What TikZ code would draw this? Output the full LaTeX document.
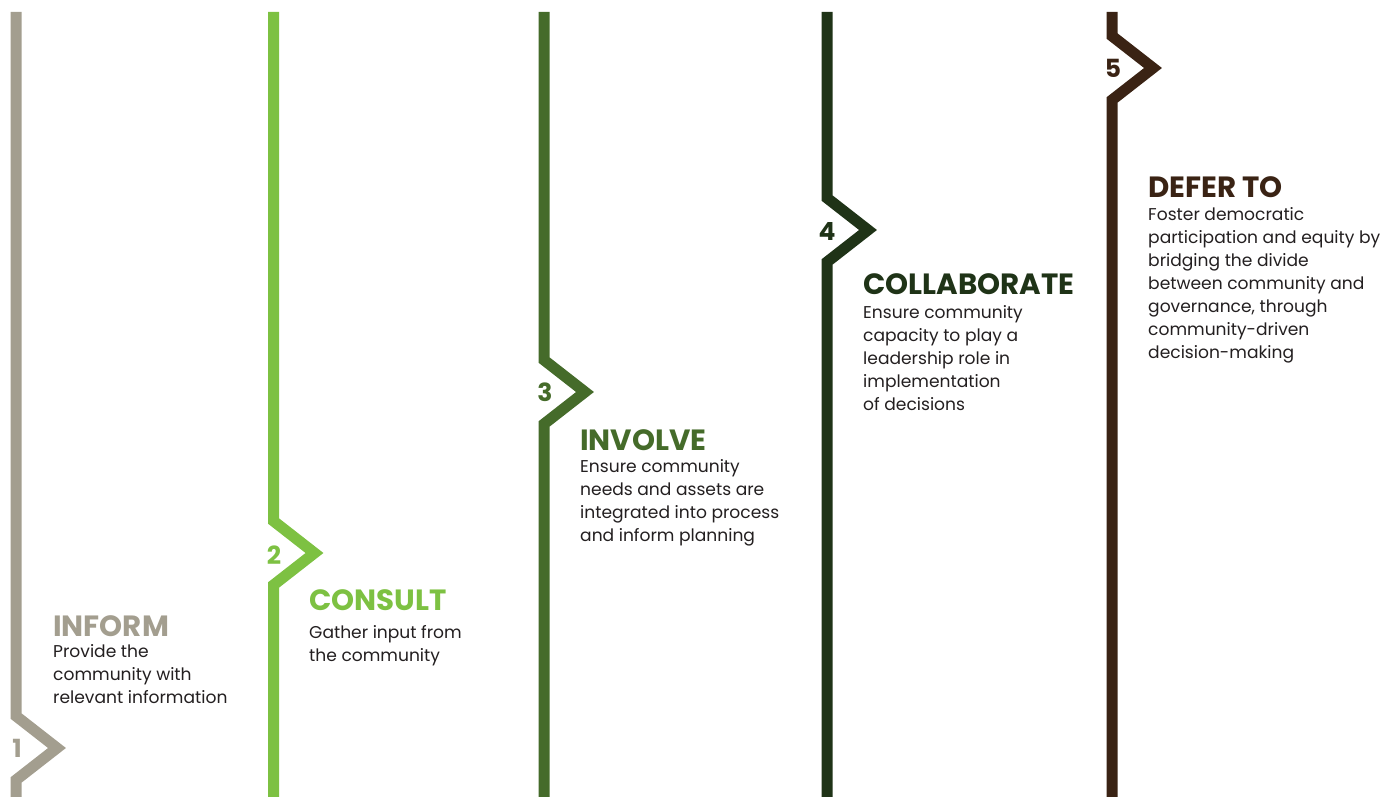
\documentclass[tikz,border=0pt]{standalone}
\usepackage{fontspec}
\setmainfont{Poppins}
\newfontfamily\titlefont{Poppins}[UprightFont=* Bold]
\definecolor{cinform}{HTML}{A39E8F}
\definecolor{cconsult}{HTML}{7DC142}
\definecolor{cinvolve}{HTML}{456B2A}
\definecolor{ccollab}{HTML}{1F3317}
\definecolor{cdefer}{HTML}{3A2314}
\definecolor{cbody}{HTML}{231F20}
\begin{document}
\begin{tikzpicture}[x=1pt,y=-1pt,
  spine/.style={line width=11pt,line join=miter,line cap=butt},
  num/.style={font=\titlefont\fontsize{25}{25}\selectfont,inner sep=0pt},
  ttl/.style={font=\titlefont\fontsize{29.3}{29.3}\selectfont,anchor=base west,inner sep=0pt},
  body/.style={font=\fontsize{17.1}{23}\selectfont,text=cbody,anchor=base west,inner sep=0pt,align=left}]
\useasboundingbox (0,0) rectangle (1400,797);
% spines
\draw[spine,cinform]  (16,12) -- (16,716) -- (57,748) -- (16,780) -- (16,797);
\draw[spine,cconsult] (273.5,12) -- (273.5,521) -- (314.5,553) -- (273.5,585) -- (273.5,797);
\draw[spine,cinvolve] (544,12) -- (544,360) -- (585,392) -- (544,424) -- (544,797);
\draw[spine,ccollab]  (827,12) -- (827,198) -- (868,230) -- (827,262) -- (827,797);
\draw[spine,cdefer]   (1112,12) -- (1112,36) -- (1153,68) -- (1112,100) -- (1112,797);
% numbers
\node[num,text=cinform]  (n1) at (17,748) {1};
\node[num,text=cconsult] (n2) at (274,555) {2};
\node[num,text=cinvolve] (n3) at (545,392) {3};
\node[num,text=ccollab]  (n4) at (827,231) {4};
\node[num,text=cdefer]   (n5) at (1113,68) {5};
% titles
\node[ttl,text=cinform]  (t1) at (53,636) {INFORM};
\node[ttl,text=cconsult] (t2) at (309,610) {CONSULT};
\node[ttl,text=cinvolve] (t3) at (580,450) {INVOLVE};
\node[ttl,text=ccollab]  (t4) at (863,294) {COLLABORATE};
\node[ttl,text=cdefer]   (t5) at (1148,197) {DEFER TO};
% bodies (anchored at the baseline of their last line)
\node[body] (b1) at (53,703) {Provide the\\community with\\relevant information};
\node[body] (b2) at (309,661) {Gather input from\\the community};
\node[body] (b3) at (580,541) {Ensure community\\needs and assets are\\integrated into process\\and inform planning};
\node[body] (b4) at (863,410) {Ensure community\\capacity to play a\\leadership role in\\implementation\\of decisions};
\node[body] (b5) at (1148,358) {Foster democratic\\participation and equity by\\bridging the divide\\between community and\\governance, through\\community-driven\\decision-making};
\end{tikzpicture}
\end{document}
